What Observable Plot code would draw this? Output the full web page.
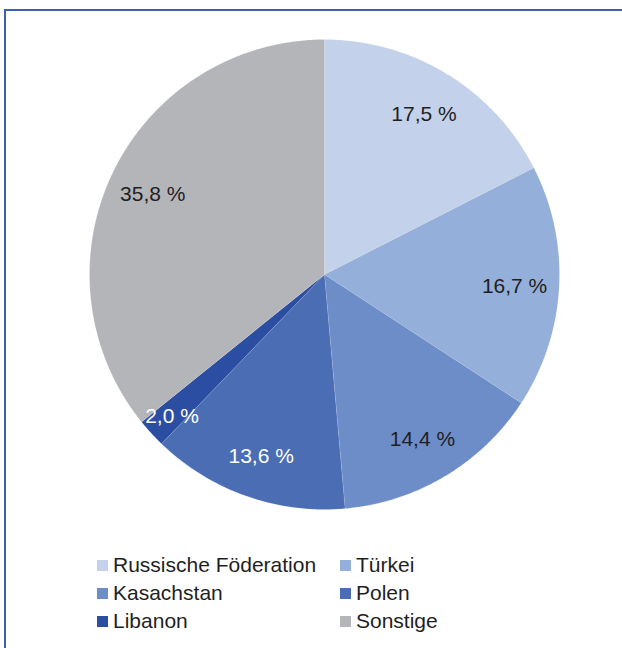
<!DOCTYPE html>
<html>
<head>
<meta charset="utf-8">
<script src="https://cdn.jsdelivr.net/npm/d3@7"></script>
<script src="https://cdn.jsdelivr.net/npm/@observablehq/plot@0.6"></script>
<style>
  html, body { margin: 0; padding: 0; background: #fff; width: 622px; height: 648px; overflow: hidden; }
  body { position: relative; font-family: "Liberation Sans", Arial, sans-serif; }
  #frame { position: absolute; left: 4px; top: 9px; width: 700px; height: 700px;
           border-top: 2px solid #3d60ad; border-left: 2px solid #3d60ad; box-sizing: border-box; }
  #chart { position: absolute; left: 0; top: 0; }
  #legend { position: absolute; left: 97px; top: 551px; display: grid;
            grid-template-columns: 243px auto; font-size: 21px; color: #1f1f1f; }
  .item { display: flex; align-items: center; height: 28px; line-height: 28px; white-space: nowrap; }
  .sw { width: 11px; height: 11px; margin-right: 5px; flex: none; }
</style>
</head>
<body>
<div id="frame"></div>
<div id="chart"></div>
<div id="legend"></div>
<script>
const categories = ["Russische Föderation", "Türkei", "Kasachstan", "Polen", "Libanon", "Sonstige"];
const shares = [17.5, 16.7, 14.4, 13.6, 2.0, 35.8];
const palette = ["#c3d1ea", "#94afd9", "#6d8dc9", "#4a6db4", "#2c4ea2", "#b4b5b9"];

const total = d3.sum(shares);
const pie = d3.pie().sort(null).value(d => d.value)
  .startAngle(0).endAngle(2 * Math.PI);
const arcs = pie(categories.map((name, i) => ({name, value: shares[i]})));

// slice outlines (angle measured clockwise from 12 o'clock), in unit-circle coordinates
const slicePts = [];
for (const a of arcs) {
  const n = Math.max(8, Math.ceil((a.endAngle - a.startAngle) / 0.01));
  slicePts.push({name: a.data.name, x: 0, y: 0});
  for (let k = 0; k <= n; k++) {
    const t = a.startAngle + (a.endAngle - a.startAngle) * k / n;
    slicePts.push({name: a.data.name, x: Math.sin(t), y: Math.cos(t)});
  }
}

const labels = arcs.map((a, i) => {
  const mid = (a.startAngle + a.endAngle) / 2;
  const rr = a.data.value / total < 0.05 ? 0.88 : 0.81;
  const col = palette[i];
  return {
    name: a.data.name,
    x: rr * Math.sin(mid),
    y: rr * Math.cos(mid),
    text: a.data.value.toFixed(1).replace(".", ",") + " %",
    ink: d3.lab(col).l < 50 ? "#ffffff" : "#1f1f1f"
  };
});

const cx = 324, cy = 274, R = 235;
const chart = Plot.plot({
  width: 622,
  height: 540,
  margin: 0,
  x: {domain: [-1, 1], range: [cx - R, cx + R], axis: null},
  y: {domain: [-1, 1], range: [cy + R, cy - R], axis: null},
  color: {domain: categories, range: palette},
  style: {background: "transparent", fontFamily: "'Liberation Sans', Arial, sans-serif"},
  marks: [
    Plot.line(slicePts, {x: "x", y: "y", z: "name", fill: "name", stroke: "#ffffff", strokeOpacity: 0.25, strokeWidth: 0.6, curve: "linear-closed"}),
    Plot.text(labels, {x: "x", y: "y", text: "text", fill: d => d.ink, fontSize: 21, textAnchor: "middle", lineAnchor: "middle", dy: 2})
  ]
});
document.getElementById("chart").appendChild(chart);

const legend = document.getElementById("legend");
categories.forEach((name, i) => {
  const item = document.createElement("div");
  item.className = "item";
  const sw = document.createElement("span");
  sw.className = "sw";
  sw.style.background = palette[i];
  item.appendChild(sw);
  item.appendChild(document.createTextNode(name));
  legend.appendChild(item);
});
</script>
</body>
</html>
